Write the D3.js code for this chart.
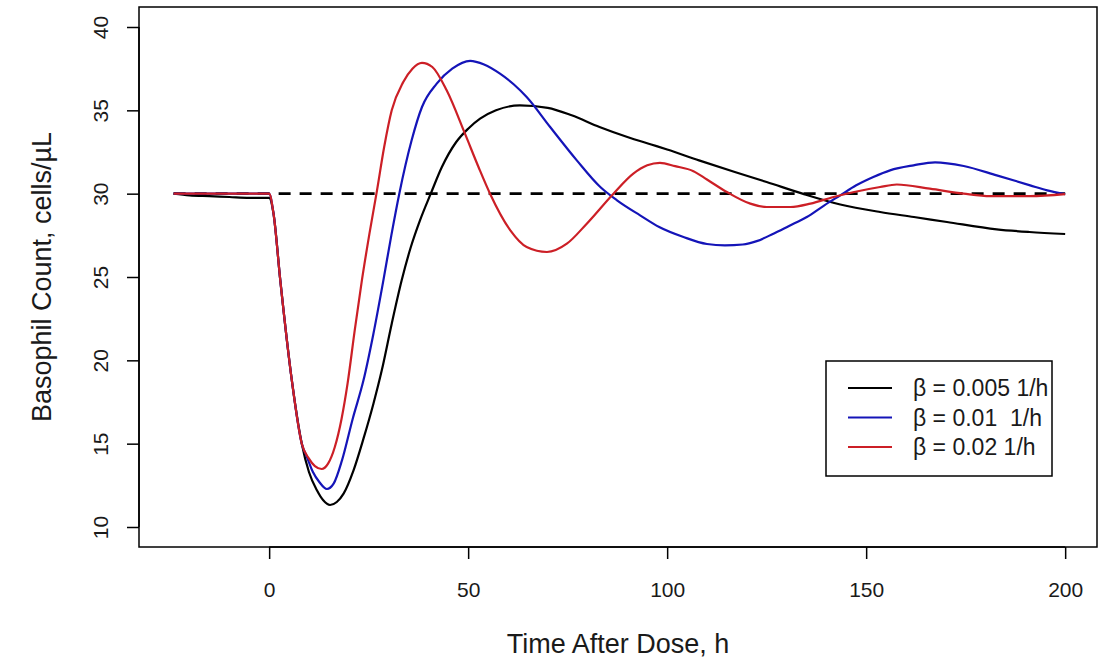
<!DOCTYPE html>
<html>
<head>
<meta charset="utf-8">
<script src="https://cdn.jsdelivr.net/npm/d3@7/dist/d3.min.js"></script>
<style>
  html, body { margin: 0; padding: 0; background: #fff; }
  svg text { font-family: "Liberation Sans", Arial, sans-serif; fill: #1a1a1a; }
</style>
</head>
<body>
<svg id="chart" width="1109" height="661"></svg>
<script>
// Simulated basophil count after dosing for three values of beta
const xTicks = [0, 50, 100, 150, 200];
const yTicks = [10, 15, 20, 25, 30, 35, 40];
const baselineValue = 30;
const baselineRange = [-24, 200];

const seriesNames = ["β = 0.005 1/h", "β = 0.01  1/h", "β = 0.02 1/h"];
const seriesColors = ["#000000", "#1414b8", "#cc1f26"];

// beta = 0.005 1/h
const timeBeta005 = [-24, -20, -15, -10, -5, 0, 1.1, 2.8, 5.7, 8.2, 10, 12, 13.6, 15.3, 17, 18.7, 21.2, 23.7, 26.2, 28.3, 30.8, 33.3, 35.6, 37.9, 40.6, 43.4, 47, 50, 53, 57, 63, 70, 76, 83, 90, 96, 100, 108, 117, 125, 134, 143.5, 153.5, 162, 170.3, 182.8, 191, 200];
const countBeta005 = [30.0, 29.9, 29.85, 29.8, 29.75, 29.75, 28.8, 24.8, 18.8, 15.0, 13.3, 12.2, 11.6, 11.32, 11.5, 12.0, 13.4, 15.3, 17.4, 19.4, 22.2, 24.8, 26.8, 28.4, 30.0, 31.6, 33.1, 33.9, 34.5, 35.0, 35.3, 35.15, 34.7, 34.0, 33.4, 32.95, 32.65, 32.0, 31.3, 30.7, 30.0, 29.35, 28.9, 28.6, 28.3, 27.86, 27.7, 27.58];

// beta = 0.01 1/h
const timeBeta01 = [-24, -10, 0, 1.1, 2.8, 5.7, 8.2, 9.5, 11, 12.6, 14.5, 16.2, 18.3, 21, 23.7, 26.2, 28.7, 30.7, 32.7, 35.8, 38.4, 42.1, 46, 50.5, 54, 58, 61.5, 64.7, 70.6, 77.3, 83.2, 87.4, 93.2, 98, 104.1, 110, 114.5, 119, 122.5, 126.7, 130.5, 135.1, 139.5, 143.5, 147.5, 151.8, 156, 161.9, 167.3, 174.5, 182.8, 191.2, 195.5, 200];
const countBeta01 = [30.0, 30.0, 30.0, 28.8, 24.8, 18.8, 15.0, 14.2, 13.3, 12.7, 12.28, 12.6, 14.0, 16.5, 18.8, 21.6, 24.8, 27.5, 30.0, 33.2, 35.2, 36.6, 37.5, 37.97, 37.75, 37.2, 36.55, 35.8, 34.0, 32.0, 30.4, 29.6, 28.7, 28.0, 27.4, 26.98, 26.9, 26.95, 27.15, 27.6, 28.05, 28.6, 29.3, 29.9, 30.5, 31.0, 31.4, 31.7, 31.88, 31.66, 31.1, 30.5, 30.2, 29.97];

// beta = 0.02 1/h
const timeBeta02 = [-24, -10, 0, 1.1, 2.8, 5.7, 8.2, 10, 11.5, 13.2, 14.8, 16.5, 18.2, 19.7, 21.5, 23.3, 25.2, 27.1, 28.9, 30.8, 33.7, 36, 38.4, 41, 44.6, 49.2, 52.6, 55.5, 60.6, 64.7, 69.8, 74.8, 79.8, 86.5, 91.5, 95, 98.2, 102, 106.6, 110, 115, 120.9, 125, 131, 136, 141.8, 147, 153.5, 157.7, 166, 174.5, 181.2, 191.2, 200];
const countBeta02 = [30.0, 30.0, 30.0, 28.8, 24.8, 18.8, 15.0, 14.1, 13.65, 13.48, 13.8, 14.8, 16.5, 18.6, 21.8, 24.8, 27.6, 30.2, 32.8, 35.0, 36.7, 37.5, 37.85, 37.6, 36.2, 33.6, 31.6, 30.0, 27.8, 26.8, 26.5, 27.0, 28.2, 30.0, 31.2, 31.7, 31.85, 31.65, 31.35, 30.85, 30.1, 29.4, 29.2, 29.2, 29.4, 29.8, 30.1, 30.4, 30.55, 30.3, 30.0, 29.85, 29.85, 29.97];

const seriesTimes = [timeBeta005, timeBeta01, timeBeta02];
const seriesCounts = [countBeta005, countBeta01, countBeta02];

const svg = d3.select("#chart");
svg.append("rect").attr("width", 1109).attr("height", 661).attr("fill", "#fff");

const plot = { left: 139, right: 1097, top: 7, bottom: 547 };

const x = d3.scaleLinear().domain([-32.7, 208]).range([plot.left, plot.right]);
const y = d3.scaleLinear().domain([8.8, 41.2]).range([plot.bottom, plot.top]);

// clip lines to the plot region
svg.append("defs").append("clipPath").attr("id", "plotClip")
  .append("rect")
  .attr("x", plot.left).attr("y", plot.top)
  .attr("width", plot.right - plot.left).attr("height", plot.bottom - plot.top);

const line = d3.line()
  .x(d => x(d[0]))
  .y(d => y(d[1]))
  .curve(d3.curveMonotoneX);

const lines = svg.append("g").attr("clip-path", "url(#plotClip)");

// reference level
lines.append("path")
  .attr("d", line(baselineRange.map(t => [t, baselineValue])))
  .attr("fill", "none")
  .attr("stroke", "#000")
  .attr("stroke-width", 2.6)
  .attr("stroke-dasharray", "12,9");

seriesTimes.forEach((times, i) => {
  const pts = times.map((t, j) => [t, seriesCounts[i][j]]);
  lines.append("path")
    .attr("d", line(pts))
    .attr("fill", "none")
    .attr("stroke", seriesColors[i])
    .attr("stroke-width", 2.2)
    .attr("stroke-linejoin", "round");
});

// frame
svg.append("rect")
  .attr("x", plot.left).attr("y", plot.top)
  .attr("width", plot.right - plot.left).attr("height", plot.bottom - plot.top)
  .attr("fill", "none").attr("stroke", "#000").attr("stroke-width", 1.5);

// x axis
const xAxis = d3.axisBottom(x).tickValues(xTicks).tickSize(12).tickPadding(23).tickFormat(d3.format("d"));
const gx = svg.append("g").attr("transform", `translate(0,${plot.bottom})`).call(xAxis);
gx.select(".domain").attr("d", `M${x(xTicks[0])},0H${x(xTicks[xTicks.length - 1])}`).attr("stroke", "#000").attr("stroke-width", 1.5);
gx.selectAll(".tick line").attr("stroke", "#000").attr("stroke-width", 1.5);
gx.selectAll(".tick text").attr("font-size", 21).attr("fill", "#1a1a1a")
  .attr("font-family", "Liberation Sans, Arial, sans-serif");

// y axis with rotated labels
const yAxis = d3.axisLeft(y).tickValues(yTicks).tickSize(12).tickPadding(0).tickFormat(d3.format("d"));
const gy = svg.append("g").attr("transform", `translate(${plot.left},0)`).call(yAxis);
gy.select(".domain").attr("d", `M0,${y(yTicks[0])}V${y(yTicks[yTicks.length - 1])}`).attr("stroke", "#000").attr("stroke-width", 1.5);
gy.selectAll(".tick line").attr("stroke", "#000").attr("stroke-width", 1.5);
gy.selectAll(".tick text")
  .attr("x", null).attr("dy", null)
  .attr("transform", "translate(-39,0) rotate(-90)")
  .attr("text-anchor", "middle")
  .attr("dominant-baseline", "central")
  .attr("font-size", 21).attr("fill", "#1a1a1a")
  .attr("font-family", "Liberation Sans, Arial, sans-serif");

// axis titles
svg.append("text")
  .attr("x", (x(-32.7) + x(208)) / 2)
  .attr("y", 644)
  .attr("text-anchor", "middle")
  .attr("dominant-baseline", "central")
  .attr("font-size", 27)
  .text("Time After Dose, h");

svg.append("text")
  .attr("transform", `translate(42,${(plot.top + plot.bottom) / 2}) rotate(-90)`)
  .attr("text-anchor", "middle")
  .attr("dominant-baseline", "central")
  .attr("font-size", 27)
  .text("Basophil Count, cells/µL");

// legend
const legend = svg.append("g");
legend.append("rect")
  .attr("x", 826).attr("y", 361).attr("width", 226).attr("height", 115)
  .attr("fill", "#fff").attr("stroke", "#000").attr("stroke-width", 1.5);
seriesNames.forEach((name, i) => {
  const ly = 388 + i * 29.5;
  legend.append("line")
    .attr("x1", 848).attr("x2", 892).attr("y1", ly).attr("y2", ly)
    .attr("stroke", seriesColors[i]).attr("stroke-width", 2.2);
  legend.append("text")
    .attr("x", 913).attr("y", ly)
    .attr("dominant-baseline", "central")
    .attr("font-size", 23)
    .style("white-space", "pre")
    .text(name);
});
</script>
</body>
</html>
